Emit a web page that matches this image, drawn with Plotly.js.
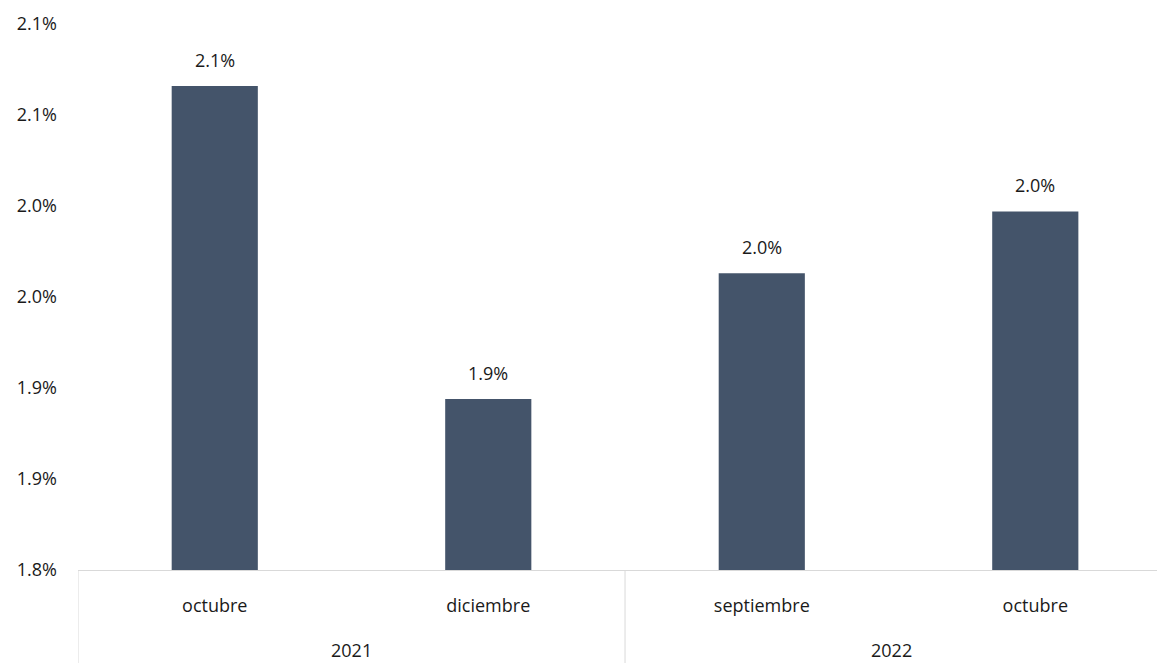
<!DOCTYPE html>
<html>
<head>
<meta charset="utf-8">
<script src="https://cdn.plot.ly/plotly-3.0.1.min.js"></script>
<style>html,body{margin:0;padding:0;background:#fff;}#chart{width:1157px;height:663px;}</style>
</head>
<body>
<div id="chart"></div>
<script>
const years = ["2021", "2021", "2022", "2022"];
const months = ["octubre", "diciembre", "septiembre", "octubre"];
const values = [2.066, 1.894, 1.963, 1.997];
const tickValues = [1.80, 1.85, 1.90, 1.95, 2.00, 2.05, 2.10];
const tickLabels = ["1.8%", "1.9%", "1.9%", "2.0%", "2.0%", "2.1%", "2.1%"];

const FONT = '"Open Sans", "Noto Sans", sans-serif';
const TXT = '#1a1a1a';
const LINE = '#d9d9d9';
const FS = 18;

const idx = months.map((_, i) => i);
const xRange = [-0.5, 3.445];

// groups from the year array
const groups = [];
years.forEach((y, i) => {
  const g = groups[groups.length - 1];
  if (g && g.name === y) g.end = i; else groups.push({name: y, start: i, end: i});
});

const trace = {
  type: 'bar',
  x: idx,
  y: values,
  marker: {color: '#44546A'},
  width: 0.315,
  hoverinfo: 'skip'
};

const annotations = [];
values.forEach((v, i) => {
  annotations.push({
    x: i, y: v, xref: 'x', yref: 'y',
    text: v.toFixed(1) + '%', showarrow: false,
    yanchor: 'bottom', yshift: 12,
    font: {family: FONT, size: FS, color: TXT}
  });
});
const shapes = [];
const bounds = new Set();
groups.forEach(g => { bounds.add(g.start - 0.5); bounds.add(g.end + 0.5); });
bounds.forEach(b => {
  shapes.push({type: 'line', xref: 'x', yref: 'paper', x0: b, x1: b, y0: 0, y1: -0.2,
    line: {color: LINE, width: 1}});
});
groups.forEach(g => {
  const lo = Math.max(g.start - 0.5, xRange[0]);
  const hi = Math.min(g.end + 0.5, xRange[1]);
  annotations.push({
    x: (lo + hi) / 2, y: 0, xref: 'x', yref: 'paper',
    text: g.name, showarrow: false, yanchor: 'middle', yshift: -80,
    font: {family: FONT, size: FS, color: TXT}
  });
});

const layout = {
  width: 1157,
  height: 663,
  margin: {l: 78, r: 0, t: 24, b: 93},
  paper_bgcolor: '#ffffff',
  plot_bgcolor: '#ffffff',
  showlegend: false,
  font: {family: FONT, size: FS, color: TXT},
  annotations: annotations,
  shapes: shapes,
  xaxis: {
    range: xRange,
    tickvals: idx,
    ticktext: months,
    showline: true,
    linecolor: LINE,
    linewidth: 1,
    showgrid: false,
    zeroline: false,
    ticks: '',
    ticklabelstandoff: 19,
    tickfont: {family: FONT, size: FS, color: TXT}
  },
  yaxis: {
    range: [1.8, 2.1],
    tickvals: tickValues,
    ticktext: tickLabels,
    showgrid: false,
    zeroline: false,
    showline: false,
    ticks: '',
    ticklabelstandoff: 20,
    tickfont: {family: FONT, size: FS, color: TXT}
  }
};

Plotly.newPlot('chart', [trace], layout, {displayModeBar: false, staticPlot: true});
</script>
</body>
</html>
